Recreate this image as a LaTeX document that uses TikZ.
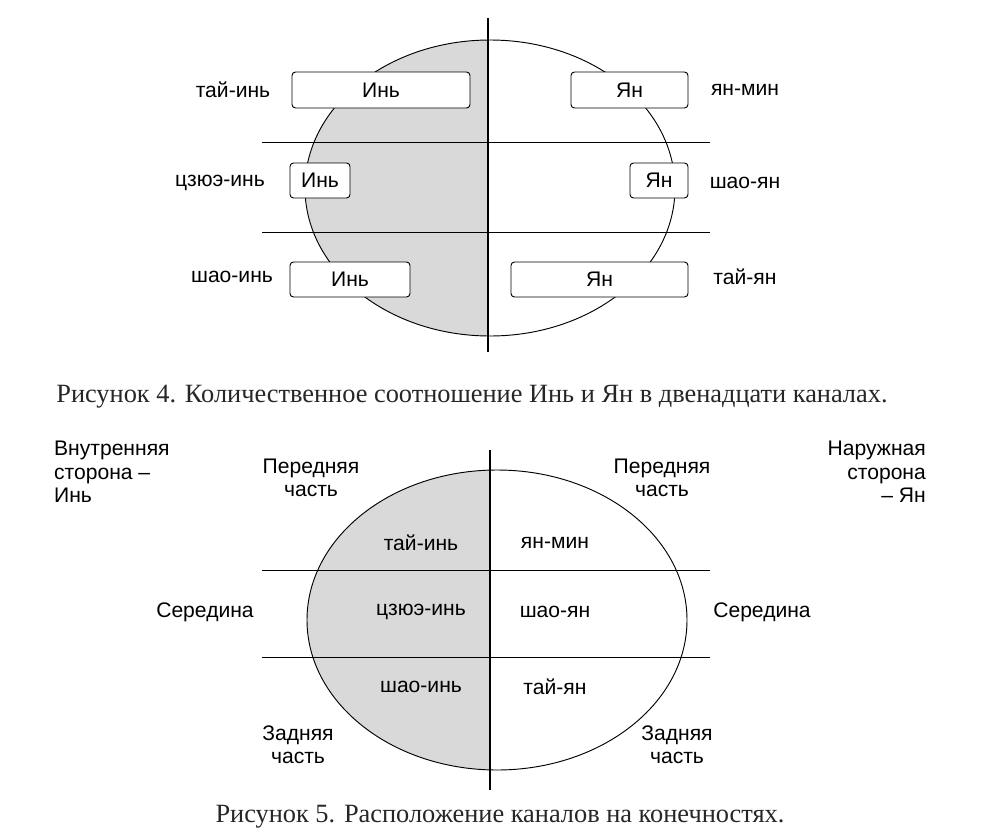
\documentclass[tikz,border=0pt]{standalone}
\usepackage{fontspec}
\setmainfont{Liberation Sans}
\newfontfamily\capfont{Liberation Serif}
\usetikzlibrary{positioning}
\tikzset{x=0.03cm, y=-0.03cm,
  every node/.style={align=center, font=\fontsize{18}{20}\selectfont},
  chbox/.style={draw, rounded corners=3pt, fill=white, thick},
  shade/.style={fill=gray!30},
  axis/.style={line width=1.2pt},
  level/.style={thin},
  caption/.style={font=\capfont\fontsize{22.5}{25}\selectfont, text=black!85}}
\begin{document}
\begin{tikzpicture}
  \useasboundingbox (0,0) rectangle (1000,837);
  % figure 4
  \begin{scope}
    \clip (0,0) rectangle (488,400);
    \fill[shade] (490,188) ellipse [x radius=185, y radius=148];
  \end{scope}
  \draw[thick] (490,188) ellipse [x radius=185, y radius=148];
  \coordinate (a1l) at (262,142); \coordinate (a1r) at (710,142);
  \coordinate (a2l) at (262,232); \coordinate (a2r) at (710,232);
  \draw[level] (a1l) -- (a1r);
  \draw[level] (a2l) -- (a2r);
  \coordinate (atop) at (488,18); \coordinate (abot) at (488,352);
  \draw[axis] (atop) -- (abot);
  \draw[chbox] (292,72) rectangle (470,108) node[midway] (yin1) {Инь};
  \draw[chbox] (571,72) rectangle (688,108) node[midway] (yan1) {Ян};
  \draw[chbox] (290,163) rectangle (350,198) node[midway] (yin2) {Инь};
  \draw[chbox] (630,163) rectangle (688,198) node[midway] (yan2) {Ян};
  \draw[chbox] (290,262) rectangle (410,297) node[midway] (yin3) {Инь};
  \draw[chbox] (511,262) rectangle (688,297) node[midway] (yan3) {Ян};
  \node (l1) at (233,90) {тай-инь};
  \node (l2) at (220,183) {цзюэ-инь};
  \node (l3) at (232,277) {шао-инь};
  \node (r1) at (745,90) {ян-мин};
  \node (r2) at (745,183) {шао-ян};
  \node (r3) at (745,277) {тай-ян};
  \node[caption] (cap4) at (472,397) {Рисунок 4. Количественное соотношение Инь и Ян в двенадцати каналах.};
  % figure 5
  \begin{scope}
    \clip (0,420) rectangle (490,800);
    \fill[shade] (497,620) ellipse [x radius=190, y radius=150];
  \end{scope}
  \draw[thick] (497,620) ellipse [x radius=190, y radius=150];
  \coordinate (b1l) at (262,570); \coordinate (b1r) at (710,570);
  \coordinate (b2l) at (262,657); \coordinate (b2r) at (710,657);
  \draw[level] (b1l) -- (b1r);
  \draw[level] (b2l) -- (b2r);
  \coordinate (btop) at (490,450); \coordinate (bbot) at (490,790);
  \draw[axis] (btop) -- (bbot);
  \node[align=left, anchor=west] (inner) at (50,472) {Внутренняя\\сторона –\\Инь};
  \node[align=right, anchor=east] (outer) at (930,472) {Наружная\\сторона\\– Ян};
  \node (frontl) at (311,478) {Передняя\\часть};
  \node (frontr) at (662,478) {Передняя\\часть};
  \node (midl) at (205,612) {Середина};
  \node (midr) at (762,612) {Середина};
  \node (backl) at (298,745) {Задняя\\часть};
  \node (backr) at (677,745) {Задняя\\часть};
  \node (c1) at (421,543) {тай-инь};
  \node (c2) at (421,612) {цзюэ-инь};
  \node (c3) at (421,687) {шао-инь};
  \node (d1) at (555,543) {ян-мин};
  \node (d2) at (555,612) {шао-ян};
  \node (d3) at (555,687) {тай-ян};
  \node[caption] (cap5) at (500,817) {Рисунок 5. Расположение каналов на конечностях.};
\end{tikzpicture}
\end{document}
